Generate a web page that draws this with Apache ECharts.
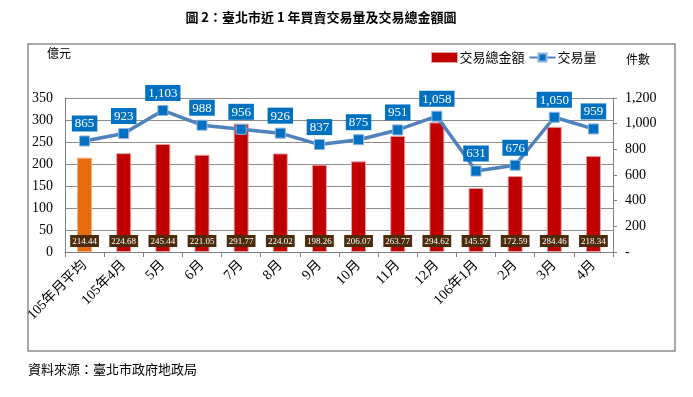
<!DOCTYPE html>
<html>
<head>
<meta charset="utf-8">
<script src="https://cdn.jsdelivr.net/npm/echarts@6/dist/echarts.min.js"></script>
<style>
  html, body { margin: 0; padding: 0; background: #fff; }
  #main { width: 693px; height: 397px; }
</style>
</head>
<body>
<div id="main"></div>
<script>
// 類別與數值
var categories = ['105年月平均', '105年4月', '5月', '6月', '7月', '8月', '9月', '10月', '11月', '12月', '106年1月', '2月', '3月', '4月'];
var amountValues = [214.44, 224.68, 245.44, 221.05, 291.77, 224.02, 198.26, 206.07, 263.77, 294.62, 145.57, 172.59, 284.46, 218.34];
var countValues = [865, 923, 1103, 988, 956, 926, 837, 875, 951, 1058, 631, 676, 1050, 959];

var serif = 'Liberation Serif, "Noto Sans CJK TC"';
var cjk = '"Noto Sans CJK TC"';

function fmt(v) {
    return String(v).replace(/\B(?=(\d{3})+(?!\d))/g, ',');
}

var barData = amountValues.map(function (v, i) {
    if (i == 0) {
        return { value: v, itemStyle: { color: '#e46c0a', borderColor: '#f4b183' } };
    }
    return v;
});

var chart = echarts.init(document.getElementById('main'));
chart.setOption({
    animation: false,
    graphic: [
        { type: 'rect', shape: { x: 28, y: 44, width: 647, height: 307 },
          style: { fill: 'none', stroke: '#8c8c8c', lineWidth: 1.5 }, z: -1 },
        { type: 'text', x: 321, y: 17, style: { text: '圖 2：臺北市近 1 年買賣交易量及交易總金額圖',
          font: 'bold 13px ' + cjk, fill: '#000', align: 'center', verticalAlign: 'middle' } },
        { type: 'text', x: 47, y: 53, style: { text: '億元', font: '12px ' + cjk, fill: '#000', verticalAlign: 'middle' } },
        { type: 'text', x: 626, y: 59, style: { text: '件數', font: '12px ' + cjk, fill: '#000', verticalAlign: 'middle' } },
        { type: 'text', x: 28, y: 369, style: { text: '資料來源：臺北市政府地政局', font: '13px ' + cjk, fill: '#000', verticalAlign: 'middle' } }
    ],
    legend: {
        left: 426, top: 46,
        itemGap: 4,
        itemWidth: 26, itemHeight: 10,
        textStyle: { fontFamily: cjk, fontSize: 13, color: '#000', padding: [0, 0, 0, -3] },
        data: [
            { name: '交易總金額', icon: 'rect', itemStyle: { color: '#c00000', borderColor: '#e8a0a0', borderWidth: 1 } },
            { name: '交易量' }
        ]
    },
    grid: { left: 65, right: 80, top: 98, bottom: 145 },
    xAxis: {
        type: 'category',
        data: categories,
        axisLine: { lineStyle: { color: '#808080', width: 1 } },
        axisTick: { show: true, length: 5, lineStyle: { color: '#808080' } },
        axisLabel: { rotate: 45, interval: 0, fontFamily: serif, fontSize: 14, color: '#000', margin: 11 }
    },
    yAxis: [
        {
            type: 'value', min: 0, max: 350, interval: 50,
            axisLine: { show: true, lineStyle: { color: '#808080' } },
            axisTick: { show: false },
            axisLabel: { fontFamily: serif, fontSize: 14, color: '#000', margin: 12 },
            splitLine: { lineStyle: { color: '#8c8c8c', width: 1 } }
        },
        {
            type: 'value', min: 0, max: 1200, interval: 200,
            axisLine: { show: true, lineStyle: { color: '#808080' } },
            axisTick: { show: true, length: 4, lineStyle: { color: '#808080' } },
            axisLabel: { fontFamily: serif, fontSize: 14, color: '#000', margin: 12,
                formatter: function (v) { return v == 0 ? '-' : fmt(v); } },
            splitLine: { show: false }
        }
    ],
    series: [
        {
            name: '交易總金額',
            type: 'bar',
            yAxisIndex: 0,
            data: barData,
            barWidth: 15,
            itemStyle: { color: '#c00000', borderColor: '#e8a0a0', borderWidth: 1 },
            label: {
                show: true, position: 'insideBottom', distance: 5,
                formatter: function (p) { return p.value.toFixed(2); },
                color: '#fff', fontFamily: serif, fontSize: 9,
                backgroundColor: '#4d2a0a', padding: [2, 2, 1, 2]
            }
        },
        {
            name: '交易量',
            type: 'line',
            yAxisIndex: 1,
            data: countValues,
            symbol: 'rect', symbolSize: 10,
            lineStyle: { color: '#4f81bd', width: 3.5 },
            itemStyle: { color: '#0070c0', borderColor: '#8db3e2', borderWidth: 1 },
            label: {
                show: true, position: 'top', distance: 4,
                formatter: function (p) { return fmt(p.value); },
                color: '#fff', fontFamily: serif, fontSize: 13,
                backgroundColor: '#0070c0', padding: [2, 3, 1, 3]
            },
            z: 3
        }
    ]
});
</script>
</body>
</html>
